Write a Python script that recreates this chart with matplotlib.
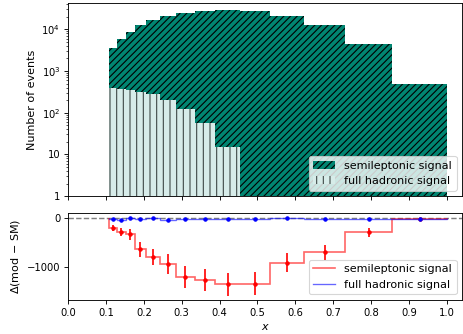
import numpy as np
import matplotlib
matplotlib.use("Agg")
import matplotlib.pyplot as plt

# --- data ---
bin_edges = [0.108, 0.128, 0.152, 0.176, 0.206, 0.242, 0.284, 0.334,
             0.389, 0.455, 0.534, 0.624, 0.731, 0.856, 1.0]

# top panel: event counts per bin
semilep_counts = [3500, 5700, 8500, 12600, 16800, 20800, 24500, 27500,
                  28600, 27200, 20900, 12500, 4540, 480]
hadronic_counts = [390, 378, 357, 313, 276, 206, 125, 56, 15]  # first 9 bins only

# bottom panel: difference mod - SM
semilep_diff = [-207, -290, -331, -636, -795, -946, -1209, -1277,
                -1367, -1353, -918, -704, -290, -21]
semilep_err = [60, 85, 120, 155, 170, 207, 225, 235, 240, 240, 197, 152, 86, 20]
hadronic_diff = [-15, -35, 12, -20, 0, -28, -20, -5, -5, -3, -2, -3, -3, -5]
hadronic_err = [10, 10, 10, 10, 10, 10, 10, 8, 8, 6, 6, 5, 5, 5]

x_ticks = [0.0, 0.1, 0.2, 0.3, 0.4, 0.5, 0.6, 0.7, 0.8, 0.9, 1.0]
y_ticks_top = [1, 10, 100, 1000, 10000]
y_ticklabels_top = ["1", "10", "$10^2$", "$10^3$", "$10^4$"]
y_ticks_bottom = [0, -1000]

TEAL = "#018571"
LIGHT = "#d7ece9"
DPI = 80

edges = np.array(bin_edges)
centers = 0.5 * (edges[1:] + edges[:-1])

fig = plt.figure(figsize=(463 / DPI, 334 / DPI), dpi=DPI)
ax1 = fig.add_axes([0.147, 0.413, 0.851, 0.577])
ax2 = fig.add_axes([0.147, 0.102, 0.851, 0.259], sharex=ax1)

# 1. Top: histograms, hadronic drawn over semileptonic
ax1.stairs(semilep_counts, edges, baseline=0.1, fill=True, facecolor=TEAL,
           edgecolor="black", linewidth=0, hatch="////", label="semileptonic signal")
ax1.stairs(hadronic_counts, edges[:len(hadronic_counts) + 1], baseline=0.1, fill=True,
           facecolor=LIGHT, edgecolor="#3f4947", linewidth=0, hatch="||",
           label="full hadronic signal")
ax1.set_yscale("log")
ax1.set_ylim(1, 4.2e4)
ax1.set_yticks(y_ticks_top, y_ticklabels_top)
ax1.set_ylabel("Number of events", fontsize=10)
ax1.tick_params(labelbottom=False, labelsize=9)
ax1.legend(loc="lower right", fontsize=10)

# 2. Bottom: differences
ax2.axhline(0, color="gray", linestyle="--", linewidth=1.3, zorder=0)
ax2.stairs(semilep_diff, edges, baseline=0, color="red", alpha=0.6, linewidth=1.5,
           label="semileptonic signal")
ax2.errorbar(centers, semilep_diff, yerr=semilep_err, fmt="o", color="red",
             markersize=3, elinewidth=1.5)
ax2.stairs(hadronic_diff, edges, baseline=0, color="blue", alpha=0.6, linewidth=1.2,
           label="full hadronic signal")
ax2.errorbar(centers, hadronic_diff, yerr=hadronic_err, fmt="o", color="blue",
             markersize=3, elinewidth=1.2)
ax2.set_ylim(-1690, 103)
ax2.set_yticks(y_ticks_bottom)
ax2.set_xticks(x_ticks)
ax2.set_xlim(0, 1.04)
ax2.set_xlabel("$x$", fontsize=10)
ax2.set_ylabel(r"$\Delta$(mod $-$ SM)", fontsize=10)
ax2.tick_params(labelsize=9)
ax2.legend(loc="lower right", fontsize=10)

fig.savefig("out.png", dpi=DPI)
